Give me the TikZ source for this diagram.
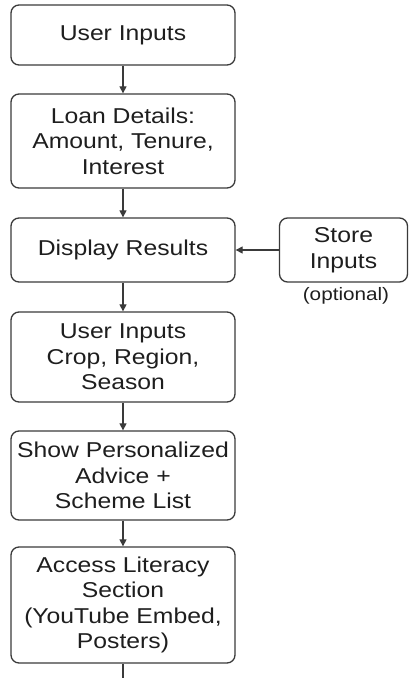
\documentclass[tikz,border=0pt]{standalone}
\usepackage{fontspec}
\setmainfont[FakeStretch=1.15]{Liberation Sans}
\usetikzlibrary{arrows.meta}
\definecolor{edge}{HTML}{3A3A3A}
\definecolor{ink}{HTML}{1E1E1E}
\begin{document}
\begin{tikzpicture}[x=1pt,y=1pt,
  box/.style={draw=edge, line width=1.3pt, rounded corners=8pt, align=center, inner sep=0pt,
    text=ink, font={\fontsize{21.5}{25.5}\selectfont}},
  flow/.style={draw=edge, line width=1.2pt, -{Triangle[length=7pt,width=7pt]}},
  note/.style={text=ink, inner sep=0pt, font={\fontsize{18}{21}\selectfont}}]
\useasboundingbox (0,0) rectangle (409,-678);
\node[box, minimum width=224pt, minimum height=60pt] (b1) at (123,-35) {User Inputs};
\node[box, minimum width=224pt, minimum height=94pt] (b2) at (123,-141) {Loan Details:\\Amount, Tenure,\\Interest};
\node[box, minimum width=224pt, minimum height=64pt] (b3) at (123,-250) {Display Results};
\node[box, minimum width=128pt, minimum height=64pt] (st) at (343.5,-250) {Store\\Inputs};
\node[note] (opt) at (346,-296) {(optional)};
\node[box, minimum width=224pt, minimum height=90pt] (b4) at (123,-357) {User Inputs\\Crop, Region,\\Season};
\node[box, minimum width=224pt, minimum height=89pt] (b5) at (123,-475.5) {Show Personalized\\Advice +\\Scheme List};
\node[box, minimum width=224pt, minimum height=116pt] (b6) at (123,-605) {Access Literacy\\Section\\(YouTube Embed,\\Posters)};
\coordinate (end) at (123,-680);
\draw[flow] (b1) -- (b2);
\draw[flow] (b2) -- (b3);
\draw[flow] (st) -- (b3);
\draw[flow] (b3) -- (b4);
\draw[flow] (b4) -- (b5);
\draw[flow] (b5) -- (b6);
\draw[draw=edge, line width=1.2pt] (b6) -- (end);
\end{tikzpicture}
\end{document}
